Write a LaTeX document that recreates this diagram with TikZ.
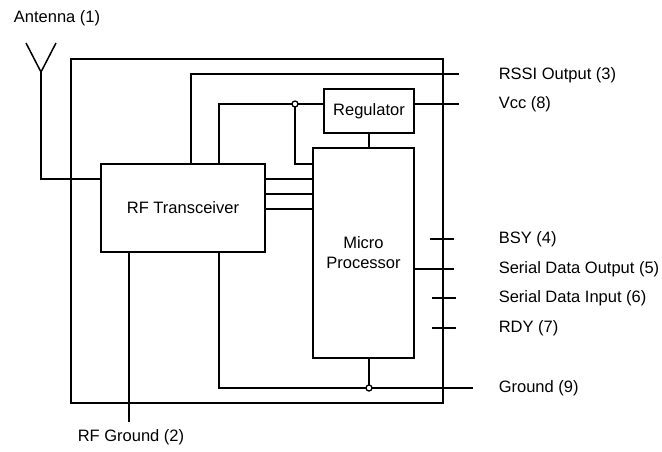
\documentclass[tikz,border=0pt]{standalone}
\usepackage{fontspec}
\setmainfont{Liberation Sans}
\tikzset{
  block/.style={draw, line width=1.5pt, inner sep=0pt, fill=white},
  pin/.style={anchor=west, inner sep=0pt, font=\fontsize{16.5}{20}\selectfont},
  junction/.style={circle, draw, line width=1.3pt, fill=white, inner sep=0pt, minimum size=6pt}
}
\begin{document}
\begin{tikzpicture}[x=1pt, y=-1pt, line width=1.5pt, font=\fontsize{16.5}{20}\selectfont]
            \useasboundingbox (0, 0) rectangle (662, 451);
            % module outline
            \node[block, fill=none, minimum width=372pt, minimum height=344pt] (module) at (257, 231) {};
            \node[block, minimum width=164pt, minimum height=88pt] (rf) at (183, 208) {RF Transceiver};
            \node[block, minimum width=90pt, minimum height=44pt] (reg) at (369, 111) {Regulator};
            \node[block, minimum width=101pt, minimum height=210pt, align=center] (mcu) at (363.5, 253)
            {Micro\\Processor};
            % pin ends
            \coordinate (ant) at (41, 72);
            \coordinate (rssiend) at (459, 74);
            \coordinate (vccend) at (459, 104);
            \coordinate (sdoend) at (454, 269);
            \coordinate (gndend) at (473, 388);
            \coordinate (rfgndend) at (129, 422);
            \coordinate (jv) at (295, 104);
            \coordinate (jg) at (369, 388);
            % pin labels
            \node[pin, anchor=center] (antlabel) at (57, 18) {Antenna (1)};
            \node[pin] (rssi) at (498, 75) {RSSI Output (3)};
            \node[pin] (vcc) at (498, 104) {Vcc (8)};
            \node[pin] (bsy) at (498, 239) {BSY (4)};
            \node[pin] (sdo) at (498, 269) {Serial Data Output (5)};
            \node[pin] (sdi) at (498, 298) {Serial Data Input (6)};
            \node[pin] (rdy) at (498, 328) {RDY (7)};
            \node[pin] (gnd) at (498, 388) {Ground (9)};
            \node[pin, anchor=center] (rfgnd) at (131, 437) {RF Ground (2)};
            % antenna
            \draw (26, 43) -- (ant) -- (56, 43);
            \draw (ant) |- (rf.west |- 0,179);
            % wiring
            \draw (rf.north -| 191,0) |- (rssiend);
            \draw (rf.north -| 219,0) |- (reg.west |- vccend);
            \draw (reg.east |- vccend) -- (vccend);
            \draw (jv) |- (mcu.west |- 0,164);
            \draw (reg.south -| jg) -- (mcu.north -| jg);
            \foreach \y in {179, 194, 209}
              \draw (rf.east |- 0,\y) -- (mcu.west |- 0,\y);
            \draw (mcu.east |- sdoend) -- (sdoend);
            \draw (430, 239) -- (454, 239);
            \draw (432, 298) -- (456, 298) (432, 328) -- (456, 328);
            \draw (rf.south -| 219,0) |- (gndend);
            \draw (mcu.south -| jg) -- (jg);
            \draw (rf.south -| rfgndend) -- (rfgndend);
            \node[junction] at (jv) {};
            \node[junction] at (jg) {};
          \end{tikzpicture}
\end{document}
